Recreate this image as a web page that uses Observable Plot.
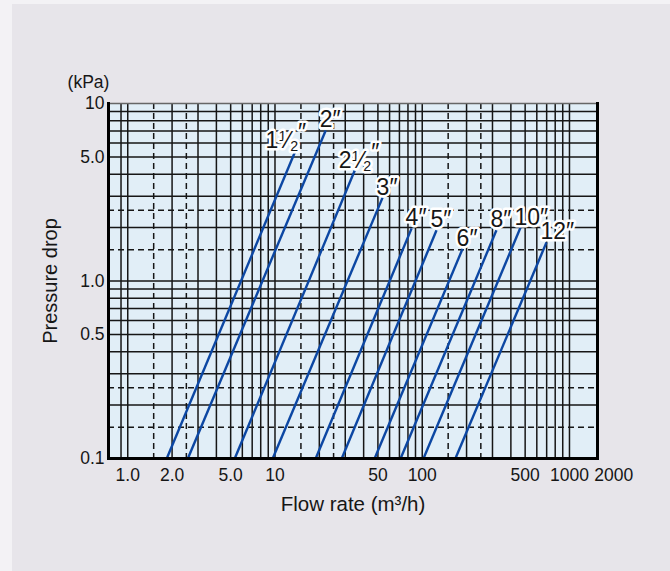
<!DOCTYPE html>
<html><head><meta charset="utf-8">
<script src="https://cdn.jsdelivr.net/npm/d3@7"></script>
<script src="https://cdn.jsdelivr.net/npm/@observablehq/plot@0.6"></script>
<style>
html,body{margin:0;padding:0;background:#f3f2f5;width:670px;height:571px;overflow:hidden;}
#panel{position:absolute;left:12px;top:4px;width:658px;height:567px;background:#e7e5ea;}
#chart{position:absolute;left:0;top:0;}
</style></head><body>
<div id="panel"></div>
<div id="chart"></div>
<script>
// Pipe sizes and their curves (flow rate m3/h vs pressure drop kPa)
const sizes     = ["1½″", "2″", "2½″", "3″", "4″", "5″", "6″", "8″", "10″", "12″"];
const flowStart = [1.84, 2.56, 5.33, 9.65, 18.9, 28.4, 47.5, 71.3, 102, 168];
const flowEnd   = [13.8, 22.1, 34.8, 53.8, 84.7, 125, 188, 319, 465, 698];
const dropStart = [0.1, 0.1, 0.1, 0.1, 0.1, 0.1, 0.1, 0.1, 0.1, 0.1];
const dropEnd   = [5.43, 7.05, 4.19, 2.95, 1.98, 1.93, 1.52, 1.93, 2.0, 1.65];

const xTicks = [1, 2, 5, 10, 50, 100, 500, 1000, 2000];
const xTickLabels = ["1.0", "2.0", "5.0", "10", "50", "100", "500", "1000", "2000"];
const yTicks = [0.1, 0.5, 1, 5, 10];
const yTickLabels = ["0.1", "0.5", "1.0", "5.0", "10"];

const xGridSolid = [0.9, 1, 2, 3, 4, 5, 6, 7, 8, 9, 10, 20, 30, 40, 50, 60, 70, 80, 90,
  100, 200, 300, 400, 500, 600, 700, 800, 900, 1000];
const xGridDashed = [1.5, 2.5, 15, 25, 150, 250];
const yGridSolid = [0.2, 0.3, 0.4, 0.5, 0.6, 0.7, 0.8, 0.9, 1, 2, 3, 4, 5, 6, 7, 8, 9];
const yGridDashed = [0.15, 0.25, 1.5, 2.5];

const rows = sizes.map((s, i) => ({size: s, q1: flowStart[i], p1: dropStart[i], q2: flowEnd[i], p2: dropEnd[i]}));
const fracRowsA = rows.filter(r => r.size === "1½″");
const fracRowsB = rows.filter(r => r.size === "2½″");
const intRows = rows.filter(r => !r.size.includes("½"));

const font = "'Liberation Sans', Arial, Helvetica, sans-serif";
const gridColor = "#161616";
const ink = "#161616";
const labelStyle = {x: "q2", y: "p2", text: "size", textAnchor: "start", lineAnchor: "bottom",
  fontSize: 23, fill: ink, stroke: "#ffffff", strokeWidth: 5, dy: -3};

const plot = Plot.plot({
  width: 670, height: 571,
  marginLeft: 108, marginRight: 73, marginTop: 103, marginBottom: 113,
  style: {background: "transparent", fontFamily: font, color: ink},
  x: {type: "log", domain: [0.74, 1550], axis: null},
  y: {type: "log", domain: [0.1, 10], axis: null},
  marks: [
    Plot.frame({fill: "#e1eef7", stroke: null}),
    Plot.ruleX(xGridSolid, {stroke: gridColor, strokeWidth: 1.5}),
    Plot.ruleX(xGridDashed, {stroke: gridColor, strokeWidth: 1.5, strokeDasharray: "6,4"}),
    Plot.ruleY(yGridSolid, {stroke: gridColor, strokeWidth: 1.5}),
    Plot.ruleY(yGridDashed, {stroke: gridColor, strokeWidth: 1.5, strokeDasharray: "6,4"}),
    Plot.link(rows, {x1: "q1", y1: "p1", x2: "q2", y2: "p2", stroke: "#0c47a3", strokeWidth: 2.4}),
    Plot.text(intRows, {...labelStyle, dx: -6}),
    Plot.text(fracRowsA, {...labelStyle, dx: -30}),
    Plot.text(fracRowsB, {...labelStyle, dx: -16}),
    Plot.frame({stroke: "#666", strokeWidth: 1.5}),
    Plot.frame({anchor: "left", stroke: "#000", strokeWidth: 3}),
    Plot.frame({anchor: "right", stroke: "#000", strokeWidth: 3}),
    Plot.frame({anchor: "bottom", stroke: "#000", strokeWidth: 3}),
    Plot.text(xTicks, {x: d => d, text: (d, i) => xTickLabels[i], frameAnchor: "bottom", textAnchor: "middle",
      dy: 22, fontSize: 17.5, fill: ink}),
    Plot.text(yTicks, {y: d => d, text: (d, i) => yTickLabels[i], frameAnchor: "left", textAnchor: "end",
      dx: -4, fontSize: 17.5, fill: ink}),
    Plot.text(["Pressure drop"], {frameAnchor: "left", textAnchor: "middle", rotate: -90, dx: -58,
      fontSize: 20, fill: ink}),
    Plot.text(["Flow rate (m³/h)"], {frameAnchor: "bottom", textAnchor: "middle", dy: 52, fontSize: 20.5, fill: ink}),
    Plot.text(["(kPa)"], {frameAnchor: "top-left", textAnchor: "middle", lineAnchor: "bottom", dx: -20, dy: -16,
      fontSize: 17.5, fill: ink})
  ]
});

// Render the ½ in the pipe labels as a stacked fraction (superscript 1 ⁄ subscript 2)
plot.querySelectorAll("text").forEach(t => {
  const s = t.textContent;
  if (!s.includes("½")) return;
  const [whole, rest] = s.split("½");
  while (t.firstChild) t.removeChild(t.firstChild);
  const NS = "http://www.w3.org/2000/svg";
  const add = (txt, attrs) => {
    const ts = document.createElementNS(NS, "tspan");
    for (const k in attrs) ts.setAttribute(k, attrs[k]);
    ts.textContent = txt;
    t.appendChild(ts);
  };
  add(whole, {});
  add("1", {"font-size": "62%", dy: "-0.45em"});
  add("⁄", {dy: "0.28em"});
  add("2", {"font-size": "62%", dy: "0.25em"});
  add(rest, {dy: "-0.5em"});
});

document.getElementById("chart").appendChild(plot);
</script>
</body></html>
